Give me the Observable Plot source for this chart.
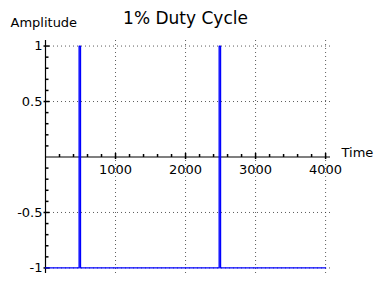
<!DOCTYPE html>
<html>
<head>
<meta charset="utf-8">
<script src="https://cdn.jsdelivr.net/npm/d3@7"></script>
<script src="https://cdn.jsdelivr.net/npm/@observablehq/plot@0.6"></script>
<style>
  html, body { margin: 0; padding: 0; background: #fff; }
  svg { display: block; }
</style>
</head>
<body>
<div id="chart"></div>
<script>
// Signal data
const time      = [0,   480, 480, 500, 500, 2480, 2480, 2500, 2500, 4000];
const amplitude = [-1,  -1,  1,   1,   -1,  -1,   1,    1,    -1,   -1];

// Tick values and labels
const xTicks = [1000, 2000, 3000, 4000];
const xTickLabels = ["1000", "2000", "3000", "4000"];
const yTicks = [-1, -0.5, 0.5, 1];
const yTickLabels = ["-1", "-0.5", "0.5", "1"];
const xMinor = d3.range(200, 4001, 200).filter(v => v % 1000 !== 0);
const yMinor = d3.range(-10, 11).map(v => v / 10).filter(v => Math.abs(v * 2 - Math.round(v * 2)) > 1e-9);

const title = "1% Duty Cycle";
const xLabel = "Time";
const yLabel = "Amplitude";

const signal = time.map((t, i) => ({t, a: amplitude[i]}));

const sym = (x1, y1, x2, y2) => ({draw(ctx) { ctx.moveTo(x1, y1); ctx.lineTo(x2, y2); }});

const font = "DejaVu Sans, sans-serif";

const chart = Plot.plot({
  width: 384,
  height: 285,
  marginLeft: 45,
  marginRight: 54,
  marginTop: 40,
  marginBottom: 12,
  style: {fontFamily: font, fontSize: "13px", background: "white"},
  x: {domain: [0, 4070], axis: null},
  y: {domain: [-1.05, 1.05], axis: null},
  marks: [
    // grid
    Plot.ruleX(xTicks, {x: d => d, stroke: "#333", strokeOpacity: 0.8, strokeDasharray: "1,3"}),
    Plot.ruleY(yTicks, {y: d => d, x1: 0, x2: 4070, stroke: "#333", strokeOpacity: 0.8, strokeDasharray: "1,3"}),
    // axes
    Plot.ruleY([0], {x1: 0, x2: 4070, stroke: "black", strokeWidth: 1.2}),
    Plot.ruleX([0], {stroke: "black", strokeWidth: 1.2}),
    // ticks
    Plot.dot(xMinor, {x: d => d, y: 0, symbol: sym(0, 0, 0, -3), stroke: "black", fill: "none", r: 3}),
    Plot.dot(xTicks, {x: d => d, y: 0, symbol: sym(0, 2, 0, -4), stroke: "black", fill: "none", r: 3}),
    Plot.dot(yMinor, {x: 0, y: d => d, symbol: sym(0, 0, 3, 0), stroke: "black", fill: "none", r: 3}),
    Plot.dot(yTicks, {x: 0, y: d => d, symbol: sym(-2, 0, 4, 0), stroke: "black", fill: "none", r: 3}),
    // tick labels
    Plot.text(xTicks, {x: d => d, y: 0, text: (d, i) => xTickLabels[i], dy: 13, fontSize: 13, fill: "black"}),
    Plot.text(yTicks, {x: 0, y: d => d, text: (d, i) => yTickLabels[i], textAnchor: "end", dx: -3, fontSize: 13, fill: "black"}),
    // signal
    Plot.line(signal, {x: "t", y: "a", stroke: "#0000ff", strokeWidth: 1.3}),
    // labels
    Plot.text([xLabel], {x: 4070, y: 0, text: d => d, textAnchor: "start", dx: 11, dy: -4, fontSize: 13, fill: "black"}),
    Plot.text([yLabel], {frameAnchor: "top-left", lineAnchor: "middle", text: d => d, textAnchor: "start", dx: -35, dy: -18, fontSize: 13, fill: "black"}),
    Plot.text([title], {frameAnchor: "top", lineAnchor: "middle", text: d => d, dx: -2.5, dy: -22, fontSize: 17, fill: "black"})
  ]
});

document.getElementById("chart").appendChild(chart);
</script>
</body>
</html>
